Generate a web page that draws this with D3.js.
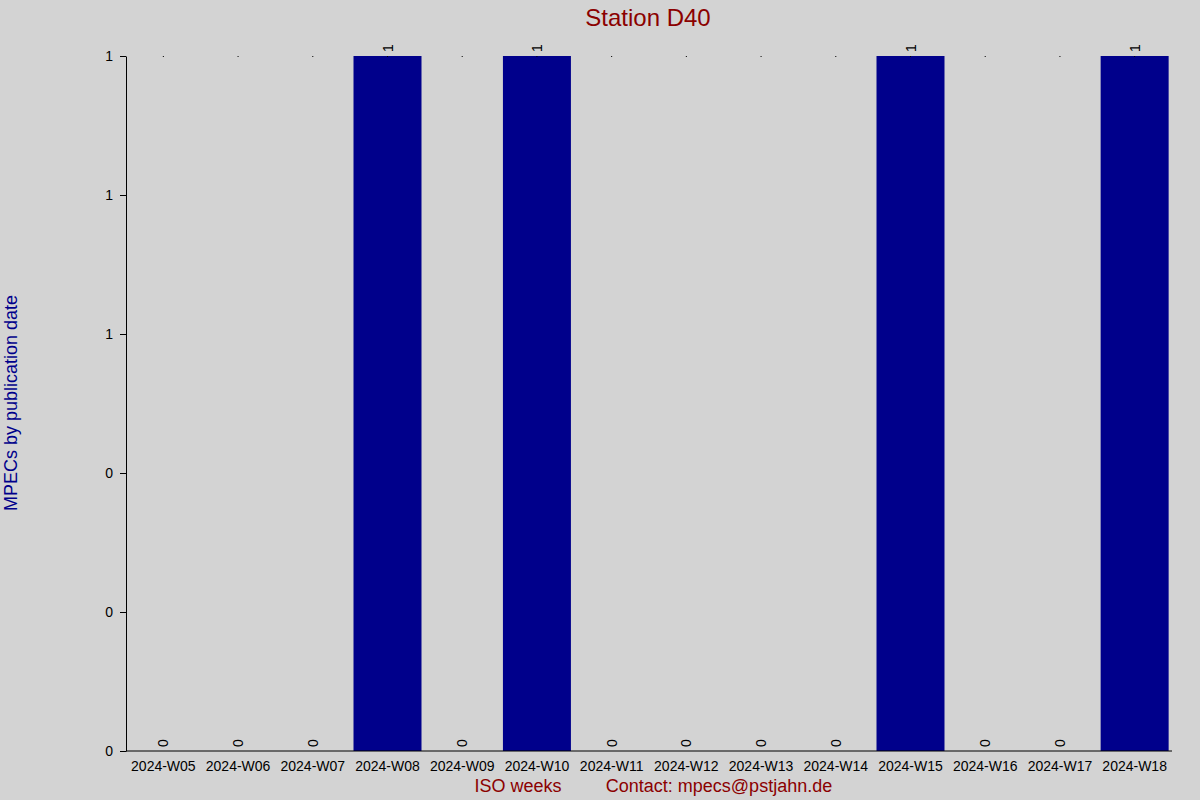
<!DOCTYPE html>
<html><head><meta charset="utf-8">
<script src="https://cdn.jsdelivr.net/npm/d3@7"></script>
<style>body{margin:0;background:#d3d3d3}text{font-family:Arial,"Liberation Sans",sans-serif}</style>
</head><body>
<script>
var WEEKS = ["2024-W05","2024-W06","2024-W07","2024-W08","2024-W09","2024-W10","2024-W11",
             "2024-W12","2024-W13","2024-W14","2024-W15","2024-W16","2024-W17","2024-W18"];
var COUNTS = [0,0,0,1,0,1,0,0,0,0,1,0,0,1];
var Y_TICKS = [0,0.2,0.4,0.6,0.8,1];

var WIDTH = 1200, HEIGHT = 800;
var LEFT = 126, RIGHT = 1172, TOP = 56, BOTTOM = 751;
var BAR_COLOR = "#00008b", TITLE_COLOR = "#8b0000";

var svg = d3.select("body").append("svg").attr("width", WIDTH).attr("height", HEIGHT);
svg.append("rect").attr("width", WIDTH).attr("height", HEIGHT).attr("fill", "#d3d3d3");

var x = d3.scaleBand().domain(WEEKS).range([LEFT, RIGHT]).paddingInner(0.09).paddingOuter(0.045);
var y = d3.scaleLinear().domain([0, 1]).range([BOTTOM, TOP]);

// bars
svg.selectAll("rect.bar").data(WEEKS).enter().append("rect")
    .attr("class", "bar")
    .attr("x", function(d) { return x(d); })
    .attr("width", x.bandwidth())
    .attr("y", function(d, i) { return y(COUNTS[i]); })
    .attr("height", function(d, i) { return y(0) - y(COUNTS[i]); })
    .attr("fill", BAR_COLOR);

// tiny marks at the top
svg.selectAll("line.top").data(WEEKS).enter().append("line")
    .attr("x1", function(d) { return x(d) + x.bandwidth() / 2; })
    .attr("x2", function(d) { return x(d) + x.bandwidth() / 2; })
    .attr("y1", TOP).attr("y2", TOP + 1).attr("stroke", "#000");

// value labels
svg.selectAll("text.val").data(WEEKS).enter().append("text")
    .attr("transform", function(d, i) {
      return "translate(" + (x(d) + x.bandwidth() / 2 + 5) + "," + (y(COUNTS[i]) - 4) + ") rotate(-90)";
    })
    .attr("font-size", 14).attr("fill", "#000")
    .text(function(d, i) { return COUNTS[i]; });

// axes
var yAxis = svg.append("g").attr("transform", "translate(" + LEFT + ",0)")
    .call(d3.axisLeft(y).tickValues(Y_TICKS).tickFormat(d3.format(".0f")).tickSizeOuter(0));
var xAxis = svg.append("g").attr("transform", "translate(0," + BOTTOM + ")")
    .call(d3.axisBottom(x).tickSize(0).tickSizeOuter(0));
yAxis.selectAll("text").attr("font-size", 14).attr("font-family", "Arial").attr("dx", "-4");
xAxis.selectAll("text").attr("font-size", 14).attr("font-family", "Arial").attr("dy", "1.2em");
svg.selectAll(".domain").attr("stroke", "#000");
xAxis.select(".domain").attr("d", "M" + LEFT + ",0H" + RIGHT);

// titles
svg.append("text").attr("x", 648).attr("y", 26).attr("text-anchor", "middle")
    .attr("font-size", 24).attr("fill", TITLE_COLOR).text("Station D40");
svg.append("text").attr("transform", "translate(17,403) rotate(-90)").attr("text-anchor", "middle")
    .attr("font-size", 18).attr("fill", BAR_COLOR).text("MPECs by publication date");
svg.append("text").attr("x", 518).attr("y", 792).attr("text-anchor", "middle")
    .attr("font-size", 18).attr("fill", TITLE_COLOR).text("ISO weeks");
svg.append("text").attr("x", 719).attr("y", 792).attr("text-anchor", "middle")
    .attr("font-size", 18).attr("fill", TITLE_COLOR).text("Contact: mpecs@pstjahn.de");
</script>
</body></html>
